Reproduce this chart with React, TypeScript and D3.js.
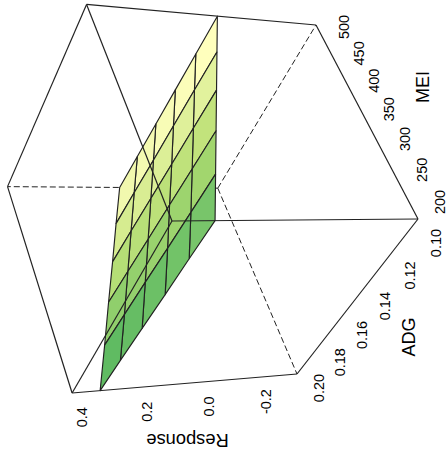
import React from "react";
import * as d3 from "d3";

const meiGrid = [200, 260, 320, 380, 440, 500];
const adgGrid = [0.1, 0.12, 0.14, 0.16, 0.18, 0.2];
// rows: MEI, columns: ADG
const response200 = [0.313, 0.32, 0.326, 0.333, 0.34, 0.346];
const response260 = [0.256, 0.262, 0.268, 0.275, 0.281, 0.287];
const response320 = [0.199, 0.205, 0.211, 0.217, 0.223, 0.229];
const response380 = [0.142, 0.148, 0.153, 0.159, 0.165, 0.17];
const response440 = [0.085, 0.091, 0.096, 0.101, 0.107, 0.112];
const response500 = [0.028, 0.033, 0.038, 0.043, 0.048, 0.053];
const responseGrid = [response200, response260, response320, response380, response440, response500];

const meiTicks = [200, 250, 300, 350, 400, 450, 500];
const adgTicks = [0.1, 0.12, 0.14, 0.16, 0.18, 0.2];
const responseTicks = [-0.2, 0, 0.2, 0.4];

const colorStops = [0.059, 0.08, 0.115, 0.17, 0.23, 0.288, 0.315];
const colorValues = ["#FFFFBD", "#F1F8AE", "#E3F29E", "#C4E47D", "#A2D66E", "#78C56A", "#5FBA62"];

const W = 447;
const H = 457;

const u = d3.scaleLinear().domain([200, 500]).range([0, 1]);
const v = d3.scaleLinear().domain([0.1, 0.2]).range([0, 1]);
const w = d3.scaleLinear().domain([-0.31, 0.43]).range([0, 1]);
const fill = d3.scaleLinear<string>().domain(colorStops).range(colorValues).clamp(true);

// projective camera, from the picture's box
const E = [418, 219];
const F = [316, 25];
const D = [297, 374];
const G = [172, 221];
const ka = 1.115;
const kb = 1.145;
const kc = 0.885;

function project(mei: number, adg: number, resp: number): [number, number] {
  const a = u(mei), b = v(adg), c = w(resp);
  const den = 1 + a * (ka - 1) + b * (kb - 1) + c * (kc - 1);
  const p = (i: number) =>
    E[i] + a * (ka * F[i] - E[i]) + b * (kb * D[i] - E[i]) + c * (kc * G[i] - E[i]);
  return [p(0) / den, p(1) / den];
}

const zLo = w.invert(0);
const zHi = w.invert(1);
const corner = {
  E: project(200, 0.1, zLo),
  F: project(500, 0.1, zLo),
  D: project(200, 0.2, zLo),
  Hb: project(500, 0.2, zLo),
  G: project(200, 0.1, zHi),
  A: project(500, 0.1, zHi),
  C: project(200, 0.2, zHi),
  B: project(500, 0.2, zHi),
};

const line = d3.line();
const STROKE = "#222";
const FONT = "'Liberation Sans', Arial, sans-serif";

const seg = (a: [number, number], b: [number, number]) => line([a, b]) as string;

const backEdges = [
  [corner.Hb, corner.B],
  [corner.Hb, corner.F],
  [corner.Hb, corner.D],
] as [number, number][][];
const outerEdges = [
  [corner.A, corner.F],
  [corner.F, corner.E],
  [corner.E, corner.D],
  [corner.D, corner.C],
  [corner.C, corner.B],
  [corner.B, corner.A],
] as [number, number][][];
const frontEdges = [
  [corner.G, corner.A],
  [corner.G, corner.E],
  [corner.G, corner.C],
] as [number, number][][];

const meiOffX = d3.scaleLinear().domain([200, 500]).range([22, 28]);
const meiOffY = d3.scaleLinear().domain([200, 500]).range([-17, 2]);
const adgOffX = d3.scaleLinear().domain([0.1, 0.2]).range([18, 22]);
const adgOffY = d3.scaleLinear().domain([0.1, 0.2]).range([24, 14]);

export default function App() {
  const cells: React.ReactNode[] = [];
  for (let i = meiGrid.length - 2; i >= 0; i--) {
    for (let j = 0; j < adgGrid.length - 1; j++) {
      const corners: [number, number, number][] = [
        [meiGrid[i], adgGrid[j], responseGrid[i][j]],
        [meiGrid[i + 1], adgGrid[j], responseGrid[i + 1][j]],
        [meiGrid[i + 1], adgGrid[j + 1], responseGrid[i + 1][j + 1]],
        [meiGrid[i], adgGrid[j + 1], responseGrid[i][j + 1]],
      ];
      const pts = corners.map((c) => project(c[0], c[1], c[2]));
      cells.push(
        <path
          key={`${i}-${j}`}
          d={(line(pts) as string) + "Z"}
          fill={fill(d3.mean(corners, (c) => c[2]) as number)}
          stroke={STROKE}
          strokeWidth={1.15}
          strokeLinejoin="round"
        />
      );
    }
  }

  const rot = (x: number, y: number, a: number) => `rotate(${a} ${x} ${y})`;
  const textProps = {
    fontFamily: FONT,
    fill: "#000",
    textAnchor: "middle" as const,
    dominantBaseline: "central" as const,
  };

  return (
    <svg
      width={W}
      height={H}
      viewBox={`0 0 ${W} ${H}`}
      style={{ position: "absolute", left: 0, top: 0, background: "#fff" }}
    >
      {backEdges.map((e, i) => (
        <path key={i} d={seg(e[0], e[1])} stroke={STROKE} strokeWidth={1} strokeDasharray="6 3" fill="none" />
      ))}
      {cells}
      {outerEdges.map((e, i) => (
        <path key={i} d={seg(e[0], e[1])} stroke={STROKE} strokeWidth={1.2} fill="none" />
      ))}
      {frontEdges.map((e, i) => (
        <path key={i} d={seg(e[0], e[1])} stroke={STROKE} strokeWidth={1.2} fill="none" />
      ))}

      {meiTicks.map((t) => {
        const [x0, y0] = project(t, 0.1, zLo);
        const x = x0 + meiOffX(t), y = y0 + meiOffY(t);
        return (
          <text key={t} x={x} y={y} fontSize={14.5} transform={rot(x, y, -90)} {...textProps}>
            {t}
          </text>
        );
      })}
      {adgTicks.map((t) => {
        const [x0, y0] = project(200, t, zLo);
        const x = x0 + adgOffX(t), y = y0 + adgOffY(t);
        return (
          <text key={t} x={x} y={y} fontSize={14.5} transform={rot(x, y, -90)} {...textProps}>
            {t.toFixed(2)}
          </text>
        );
      })}
      {responseTicks.map((t) => {
        const [x0, y0] = project(200, 0.2, t);
        const x = x0, y = y0 + 25;
        return (
          <text key={t} x={x} y={y} fontSize={14.5} transform={rot(x, y, -90)} {...textProps}>
            {t.toFixed(1)}
          </text>
        );
      })}

      <text x={423} y={87} fontSize={18} transform={rot(423, 87, -90)} {...textProps}>MEI</text>
      <text x={409} y={337} fontSize={18} transform={rot(409, 337, -90)} {...textProps}>ADG</text>
      <text x={187.5} y={440} fontSize={18.3} transform={rot(187.5, 440, 180)} {...textProps}>Response</text>
    </svg>
  );
}
